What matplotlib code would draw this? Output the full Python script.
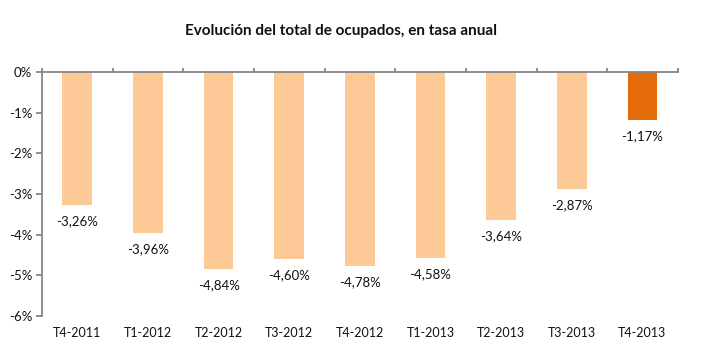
import matplotlib
matplotlib.use("Agg")
import matplotlib.pyplot as plt
from matplotlib.ticker import FixedLocator

categories = ["T4-2011", "T1-2012", "T2-2012", "T3-2012", "T4-2012",
              "T1-2013", "T2-2013", "T3-2013", "T4-2013"]
values = [-3.26, -3.96, -4.84, -4.60, -4.78, -4.58, -3.64, -2.87, -1.17]
labels = ["-3,26%", "-3,96%", "-4,84%", "-4,60%", "-4,78%",
          "-4,58%", "-3,64%", "-2,87%", "-1,17%"]
ytick_vals = [0, -1, -2, -3, -4, -5, -6]
ytick_labels = ["0%", "-1%", "-2%", "-3%", "-4%", "-5%", "-6%"]

plt.rcParams['font.family'] = ['Lato', 'DejaVu Sans']

fig = plt.figure(figsize=(7.15, 3.61), dpi=100)
ax = fig.add_axes([0.0587, 0.1247, 0.8893, 0.6759])

colors = ["#FDCA97"] * (len(values) - 1) + ["#E46C0A"]
x = list(range(len(values)))
bars = ax.bar(x, values, width=0.42, color=colors, zorder=2)

for xi, v, lab in zip(x, values, labels):
    ax.text(xi, v - 0.25, lab, ha="center", va="top", fontsize=9.5, color="#111111")

ax.set_xlim(-0.5, len(values) - 0.5)
ax.set_ylim(-6, 0)
ax.set_yticks(ytick_vals)
ax.set_yticklabels(ytick_labels, fontsize=9.5, color="#111111")

ax.set_xticks([])
for xi, c in zip(x, categories):
    ax.text(xi, -6.27, c, ha="center", va="top", fontsize=9, color="#111111")

# top axis with ticks at category boundaries
ax.spines["right"].set_visible(False)
ax.spines["bottom"].set_visible(False)
for s in ["left", "top"]:
    ax.spines[s].set_color("#868686")
    ax.spines[s].set_linewidth(1.3)
ax.tick_params(axis="y", color="#868686", length=4, width=1.3, pad=3)
ax.xaxis.set_ticks_position("top")
ax.xaxis.set_major_locator(FixedLocator([i + 0.5 for i in range(-1, len(values))]))
ax.tick_params(axis="x", which="major", direction="out", length=3, width=1.3,
               color="#868686", labeltop=False, labelbottom=False)

fig.text(0.477, 0.915, "Evolución del total de ocupados, en tasa anual",
         ha="center", va="center", fontsize=11, fontweight="bold", color="#111111")

fig.savefig("out.png", dpi=100)
